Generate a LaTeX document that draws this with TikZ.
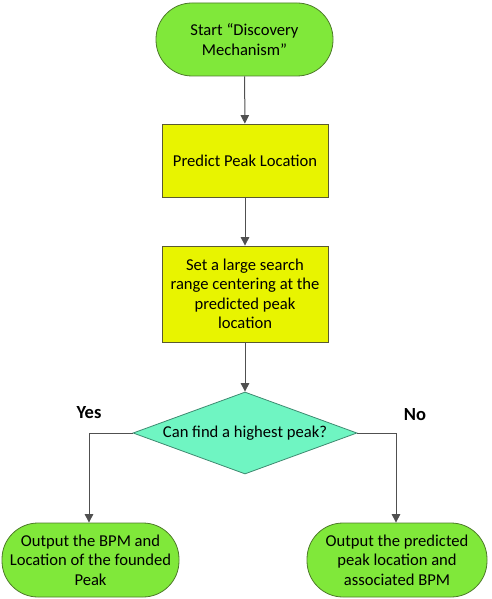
\documentclass[tikz,border=0pt]{standalone}
\usepackage{fontspec}
\setmainfont{Carlito}
\usetikzlibrary{shapes.geometric,arrows.meta}
\definecolor{termgreen}{HTML}{80E83A}
\definecolor{termborder}{HTML}{4E7A2A}
\definecolor{boxyellow}{HTML}{E8F400}
\definecolor{boxborder}{HTML}{5A5A30}
\definecolor{decmint}{HTML}{6FF5C2}
\definecolor{decborder}{HTML}{3E8A70}
\definecolor{arrowgray}{HTML}{505050}
\begin{document}
\begin{tikzpicture}[x=1pt,y=-1pt,
  every node/.style={font=\fontsize{16.6}{19.5}\selectfont, align=center},
  terminal/.style={draw=termborder, fill=termgreen, line width=0.8pt, rounded corners=36pt, inner sep=0pt},
  procbox/.style={draw=boxborder, fill=boxyellow, line width=0.8pt, inner sep=0pt, minimum width=166pt},
  decision/.style={draw=decborder, fill=decmint, line width=0.8pt, diamond, aspect=2.73, inner sep=0pt, minimum width=224pt, minimum height=82pt},
  flow/.style={draw=arrowgray, line width=1pt, -{Triangle[width=8.5pt,length=8.5pt]}},
  branch/.style={font=\fontsize{18.5}{20}\selectfont\bfseries}
]
\useasboundingbox (0,0) rectangle (491,599);
\node[terminal, minimum width=177pt, minimum height=73pt] (start) at (244.5,39.5) {Start “Discovery\\Mechanism”};
\node[procbox, minimum height=73pt] (predict) at (245,160.5) {Predict Peak Location};
\node[procbox, minimum height=96pt] (range) at (245,294) {Set a large search\\range centering at the\\predicted peak\\location};
\node[decision] (dec) at (245,433) {Can find a highest peak?};
\node[terminal, minimum width=177pt, minimum height=74pt] (yesout) at (90.5,560) {Output the BPM and\\Location of the founded\\Peak};
\node[terminal, minimum width=180pt, minimum height=74pt] (noout) at (397,560) {Output the predicted\\peak location and\\associated BPM};
\coordinate (ycorner) at (89,433);
\coordinate (ncorner) at (396,433);
\node[branch] (yeslbl) at (89,413) {Yes};
\node[branch] (nolbl) at (415,415) {No};
\draw[flow] (start) -- (predict);
\draw[flow] (predict) -- (range);
\draw[flow] (range) -- (dec);
\draw[flow] (dec.west) -- (ycorner) -- (yesout.north -| ycorner);
\draw[flow] (dec.east) -- (ncorner) -- (noout.north -| ncorner);
\end{tikzpicture}
\end{document}
